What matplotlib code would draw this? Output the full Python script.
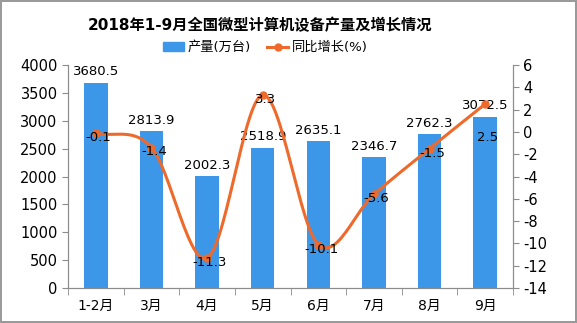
import numpy as np
import matplotlib
matplotlib.use('Agg')
import matplotlib.pyplot as plt
from matplotlib.lines import Line2D
from matplotlib.patches import Patch

plt.rcParams['font.family'] = ['DejaVu Sans', 'Noto Sans CJK SC']
plt.rcParams['axes.unicode_minus'] = False

months = ['1-2月', '3月', '4月', '5月', '6月', '7月', '8月', '9月']
output = [3680.5, 2813.9, 2002.3, 2518.9, 2635.1, 2346.7, 2762.3, 3072.5]
growth = [-0.1, -1.4, -11.3, 3.3, -10.1, -5.6, -1.5, 2.5]

bar_color = '#3D97E9'
line_color = '#EE6A2C'
spine_color = '#8c8c8c'


def smooth(xs, ys, n=30):
    # catmull-rom through the points, only for drawing the curve
    xs = np.asarray(xs, float)
    ys = np.asarray(ys, float)
    px = np.concatenate([[2 * xs[0] - xs[1]], xs, [2 * xs[-1] - xs[-2]]])
    py = np.concatenate([[2 * ys[0] - ys[1]], ys, [2 * ys[-1] - ys[-2]]])
    out_x, out_y = [], []
    t = np.linspace(0, 1, n)
    for i in range(1, len(px) - 2):
        for p, out in ((px, out_x), (py, out_y)):
            p0, p1, p2, p3 = p[i - 1], p[i], p[i + 1], p[i + 2]
            out.extend(0.5 * ((2 * p1) + (-p0 + p2) * t
                              + (2 * p0 - 5 * p1 + 4 * p2 - p3) * t ** 2
                              + (-p0 + 3 * p1 - 3 * p2 + p3) * t ** 3))
    return np.array(out_x), np.array(out_y)


fig = plt.figure(figsize=(5.77, 3.23), dpi=100, linewidth=1.5, edgecolor='#9a9a9a')
ax = fig.add_axes([0.118, 0.108, 0.771, 0.691])
ax2 = ax.twinx()

x = np.arange(len(months))
ax.bar(x, output, width=0.42, color=bar_color, zorder=2)
for xi, v in zip(x, output):
    ax.text(xi, v + 80, f'{v:.1f}', ha='center', va='bottom', fontsize=9.5, zorder=5)

sx, sy = smooth(x, growth)
ax2.plot(sx, sy, color=line_color, linewidth=2.2, zorder=3)
ax2.plot(x, growth, 'o', color=line_color, markersize=5, zorder=4)
for i, (xi, v) in enumerate(zip(x, growth)):
    # last label sits lower so it clears the bar value above it
    dy = 3.0 if i == len(growth) - 1 else 0.4
    ax2.text(xi + 0.05, v - dy, f'{v}', ha='center', va='center', fontsize=9.5, zorder=5)

ax.set_xlim(-0.5, len(months) - 0.5)
ax.set_ylim(0, 4000)
ax.set_yticks(np.arange(0, 4001, 500))
ax2.set_ylim(-14, 6)
ax2.set_yticks(np.arange(-14, 7, 2))

ax.set_xticks(x)
ax.set_xticklabels(months)
ax.set_xticks(np.arange(-0.5, len(months)), minor=True)
ax.tick_params(axis='x', which='major', length=0, pad=8, labelsize=10)
ax.tick_params(axis='x', which='minor', length=5, color=spine_color)
ax.tick_params(axis='y', length=4, color=spine_color, labelsize=10.5)
ax2.tick_params(axis='y', length=4, color=spine_color, labelsize=10.5)

for a in (ax, ax2):
    a.spines['top'].set_visible(False)
    for s in ('left', 'right', 'bottom'):
        a.spines[s].set_color(spine_color)

fig.text(0.45, 0.922, '2018年1-9月全国微型计算机设备产量及增长情况',
         ha='center', va='center', fontsize=11, fontweight='bold')

handles = [Patch(color=bar_color, label='产量(万台)'),
           Line2D([], [], color=line_color, marker='o', markersize=5,
                  linewidth=2.2, label='同比增长(%)')]
fig.legend(handles=handles, loc='center', bbox_to_anchor=(0.46, 0.853), ncol=2,
           frameon=False, fontsize=9.5, handlelength=1.6, handleheight=0.6,
           columnspacing=1.2, handletextpad=0.3)

fig.savefig('out.png', dpi=100)
